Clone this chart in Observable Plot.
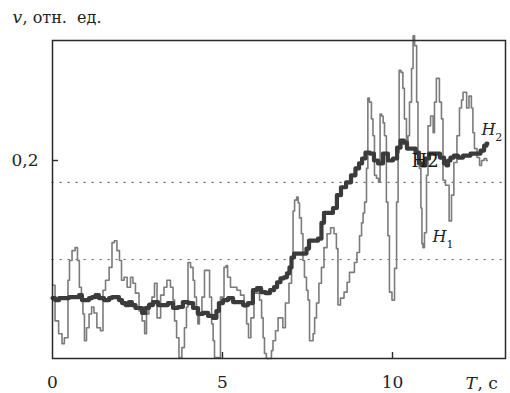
<!DOCTYPE html>
<html><head><meta charset="utf-8">
<script src="https://cdn.jsdelivr.net/npm/d3@7"></script>
<script src="https://cdn.jsdelivr.net/npm/@observablehq/plot@0.6"></script>
<style>body{margin:0;background:#fff} svg text{font-family:"DejaVu Serif",serif !important}</style>
</head><body><div id="chart"></div>
<script>
const xTicks = [0, 5, 10];
const innerXTicks = [5, 10];
const yTicks = [0.2];
const yTickLabels = ["0,2"];
const dottedLevels = [0.1, 0.178];

// H1: thin, noisy series (t in s, v in rel. units)
const h1 = [[0.03,0.074],[0.12,0.038],[0.24,0.025],[0.32,0.015],[0.38,0.021],[0.44,0.021],[0.47,0.079],[0.53,0.099],[0.62,0.109],[0.71,0.112],[0.76,0.099],[0.82,0.072],[0.88,0.062],[0.91,0.045],[0.97,0.018],[1.03,0.031],[1.12,0.045],[1.18,0.052],[1.26,0.046],[1.35,0.031],[1.47,0.028],[1.5,0.069],[1.62,0.079],[1.71,0.092],[1.79,0.117],[1.85,0.119],[1.94,0.109],[2.0,0.099],[2.06,0.079],[2.15,0.082],[2.24,0.072],[2.35,0.082],[2.38,0.076],[2.5,0.066],[2.59,0.048],[2.68,0.038],[2.74,0.025],[2.79,0.045],[2.88,0.056],[2.97,0.062],[3.03,0.076],[3.12,0.041],[3.24,0.064],[3.32,0.072],[3.41,0.079],[3.53,0.072],[3.56,0.059],[3.62,0.038],[3.68,0.021],[3.76,0.001],[3.85,0.011],[3.91,0.031],[3.97,0.052],[4.0,0.097],[4.12,0.092],[4.15,0.079],[4.21,0.062],[4.26,0.045],[4.29,0.035],[4.35,0.045],[4.44,0.062],[4.5,0.089],[4.59,0.089],[4.65,0.062],[4.71,0.035],[4.74,0.018],[4.79,0.001],[4.88,0.001],[5.0,0.062],[5.09,0.092],[5.12,0.094],[5.18,0.082],[5.29,0.072],[5.38,0.072],[5.47,0.069],[5.59,0.064],[5.68,0.052],[5.74,0.035],[5.79,0.021],[5.88,0.041],[5.97,0.066],[6.06,0.066],[6.12,0.059],[6.18,0.041],[6.21,0.021],[6.26,0.005],[6.32,0.0],[6.41,0.0],[6.47,0.008],[6.5,0.018],[6.62,0.028],[6.65,0.041],[6.76,0.041],[6.79,0.031],[6.91,0.056],[7.0,0.076],[7.06,0.102],[7.09,0.149],[7.15,0.160],[7.21,0.163],[7.24,0.157],[7.29,0.142],[7.35,0.126],[7.38,0.099],[7.44,0.082],[7.5,0.069],[7.53,0.059],[7.59,0.018],[7.65,0.018],[7.68,0.025],[7.74,0.041],[7.79,0.056],[7.88,0.076],[7.94,0.092],[8.03,0.112],[8.12,0.126],[8.24,0.132],[8.32,0.126],[8.38,0.111],[8.41,0.054],[8.53,0.061],[8.62,0.067],[8.71,0.077],[8.76,0.087],[8.85,0.087],[8.91,0.097],[9.0,0.107],[9.06,0.124],[9.12,0.137],[9.15,0.147],[9.21,0.158],[9.26,0.192],[9.29,0.263],[9.35,0.259],[9.41,0.242],[9.44,0.225],[9.5,0.185],[9.56,0.182],[9.62,0.178],[9.65,0.247],[9.71,0.245],[9.74,0.238],[9.79,0.225],[9.85,0.158],[9.88,0.124],[9.94,0.067],[10.03,0.059],[10.09,0.091],[10.15,0.158],[10.18,0.208],[10.21,0.291],[10.29,0.289],[10.32,0.273],[10.38,0.242],[10.44,0.215],[10.47,0.225],[10.53,0.259],[10.59,0.293],[10.62,0.326],[10.68,0.316],[10.74,0.259],[10.76,0.208],[10.82,0.192],[10.85,0.152],[10.88,0.116],[10.91,0.112],[10.97,0.127],[11.03,0.185],[11.06,0.235],[11.18,0.245],[11.21,0.228],[11.26,0.259],[11.32,0.283],[11.35,0.283],[11.41,0.259],[11.47,0.242],[11.5,0.180],[11.62,0.175],[11.71,0.139],[11.76,0.165],[11.85,0.198],[11.94,0.225],[12.0,0.253],[12.06,0.261],[12.09,0.269],[12.15,0.269],[12.21,0.253],[12.29,0.265],[12.35,0.253],[12.38,0.228],[12.44,0.212],[12.53,0.203],[12.59,0.195],[12.65,0.200],[12.74,0.202],[12.79,0.200]];

// H2: thick, smoothed series
const h2 = [[0,0.061],[0.15,0.059],[0.24,0.061],[0.44,0.061],[0.53,0.062],[0.74,0.062],[0.82,0.064],[0.91,0.059],[1.03,0.059],[1.12,0.061],[1.21,0.062],[1.32,0.064],[1.41,0.061],[1.62,0.059],[1.71,0.061],[1.79,0.062],[1.91,0.062],[2.0,0.059],[2.09,0.056],[2.21,0.054],[2.29,0.057],[2.38,0.054],[2.5,0.051],[2.59,0.051],[2.68,0.046],[2.79,0.051],[2.88,0.054],[3.03,0.057],[3.18,0.054],[3.32,0.054],[3.47,0.056],[3.62,0.051],[3.76,0.052],[3.91,0.057],[4.06,0.056],[4.21,0.051],[4.35,0.045],[4.5,0.046],[4.65,0.043],[4.79,0.041],[4.85,0.048],[4.94,0.056],[5.09,0.059],[5.24,0.061],[5.38,0.057],[5.53,0.057],[5.68,0.054],[5.82,0.056],[5.97,0.069],[6.06,0.071],[6.21,0.067],[6.32,0.066],[6.47,0.069],[6.56,0.072],[6.65,0.077],[6.76,0.081],[6.85,0.082],[6.94,0.086],[7.0,0.092],[7.06,0.102],[7.15,0.106],[7.29,0.106],[7.44,0.106],[7.5,0.111],[7.59,0.119],[7.74,0.119],[7.88,0.121],[7.94,0.137],[8.03,0.147],[8.18,0.147],[8.32,0.152],[8.41,0.165],[8.56,0.173],[8.71,0.178],[8.85,0.185],[8.97,0.192],[9.06,0.197],[9.15,0.202],[9.26,0.208],[9.41,0.207],[9.5,0.200],[9.65,0.197],[9.79,0.207],[9.94,0.200],[10.09,0.202],[10.18,0.213],[10.29,0.220],[10.38,0.218],[10.47,0.212],[10.62,0.212],[10.74,0.208],[10.82,0.197],[10.91,0.195],[11.03,0.202],[11.12,0.207],[11.32,0.207],[11.47,0.203],[11.56,0.197],[11.62,0.195],[11.65,0.200],[11.76,0.203],[11.85,0.205],[12.0,0.203],[12.15,0.205],[12.24,0.205],[12.35,0.207],[12.44,0.207],[12.53,0.207],[12.65,0.210],[12.74,0.215],[12.79,0.217]];

const seriesNames = [{t: 11.18, v: 0.118, name: "H"}, {t: 12.62, v: 0.226, name: "H"}];
const seriesSubs = [{t: 11.59, v: 0.112, sub: "1"}, {t: 13.02, v: 0.220, sub: "2"}];
const strayLabel = [{t: 10.56, v: 0.193, text: "H2"}];

const W = 510, H = 393;
const mL = 52, mR = 5, mT = 40, mB = 35;
const frameW = W - mL - mR, frameH = H - mT - mB;
const xMax = frameW / 34;
const yMax = frameH / 990;
const font = "DejaVu Serif";
const ink = "#222";

const chart = Plot.plot({
  width: W, height: H,
  marginLeft: mL, marginRight: mR, marginTop: mT, marginBottom: mB,
  x: {domain: [0, xMax]},
  y: {domain: [0, yMax]},
  style: {background: "#fff", color: ink, overflow: "visible"},
  marks: [
    Plot.ruleY(dottedLevels, {y: d => d, stroke: "#666", strokeWidth: 1.2, strokeDasharray: "1.2,6.8", strokeLinecap: "round"}),
    Plot.line(h1, {x: d => d[0], y: d => d[1], curve: "step", stroke: "#7b7b7b", strokeWidth: 1.6}),
    Plot.line(h2, {x: d => d[0], y: d => d[1], curve: "step", stroke: "#3b3b3b", strokeWidth: 4.2}),
    Plot.frame({stroke: "#2a2a2a", strokeWidth: 1.5}),
    Plot.tickX(innerXTicks, {x: d => d, insetTop: frameH - 6, stroke: "#2a2a2a", strokeWidth: 1.4}),
    Plot.tickY(yTicks, {y: d => d, insetRight: frameW - 6, stroke: "#2a2a2a", strokeWidth: 1.4}),
    Plot.axisX({ticks: xTicks, tickSize: 0, tickPadding: 17, fontSize: 17, fontFamily: font, label: null, fill: ink}),
    Plot.axisY({ticks: yTicks, tickFormat: (d, i) => yTickLabels[i], tickSize: 0, tickPadding: 14, fontSize: 17, fontFamily: font, label: null, fill: ink}),
    Plot.text(["v"], {frameAnchor: "top-left", dx: -40, dy: -18, lineAnchor: "bottom", textAnchor: "start", fontSize: 17, fontFamily: font, fontStyle: "italic", fill: ink}),
    Plot.text([", отн.  ед."], {frameAnchor: "top-left", dx: -30, dy: -18, lineAnchor: "bottom", textAnchor: "start", fontSize: 16, fontFamily: font, fill: ink}),
    Plot.text(["T"], {frameAnchor: "bottom-right", dx: -40, dy: 30, lineAnchor: "bottom", textAnchor: "start", fontSize: 17, fontFamily: font, fontStyle: "italic", fill: ink}),
    Plot.text([", с"], {frameAnchor: "bottom-right", dx: -28, dy: 30, lineAnchor: "bottom", textAnchor: "start", fontSize: 17, fontFamily: font, fill: ink}),
    Plot.text(seriesNames, {x: "t", y: "v", text: "name", lineAnchor: "bottom", textAnchor: "start", fontSize: 16, fontFamily: font, fontStyle: "italic", fill: ink}),
    Plot.text(seriesSubs, {x: "t", y: "v", text: "sub", lineAnchor: "bottom", textAnchor: "start", fontSize: 11, fontFamily: font, fill: ink}),
    Plot.text(strayLabel, {x: "t", y: "v", text: "text", lineAnchor: "bottom", textAnchor: "start", fontSize: 18, fontFamily: font, fill: "#1a1a1a"})
  ]
});
chart.setAttribute("font-family", "DejaVu Serif, serif");
document.getElementById("chart").appendChild(chart);
</script>
</body></html>
